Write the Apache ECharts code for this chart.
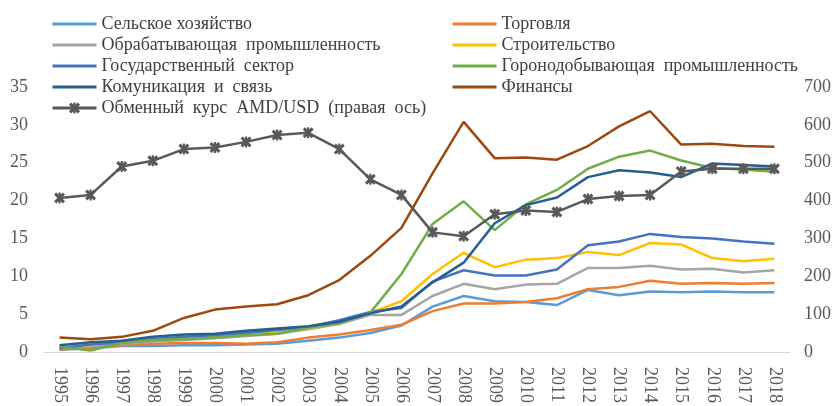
<!DOCTYPE html>
<html>
<head>
<meta charset="utf-8">
<script src="https://cdn.jsdelivr.net/npm/echarts@6/dist/echarts.min.js"></script>
<style>
  html, body { margin: 0; padding: 0; background: #fff; }
  #chart { width: 837px; height: 406px; }
</style>
</head>
<body>
<div id="chart"></div>
<script>
// годы
var years = ['1995', '1996', '1997', '1998', '1999', '2000', '2001', '2002', '2003', '2004', '2005', '2006',
    '2007', '2008', '2009', '2010', '2011', '2012', '2013', '2014', '2015', '2016', '2017', '2018'];

var agriculture   = [0.3, 0.5, 0.8, 0.8, 0.9, 0.9, 1.0, 1.1, 1.5, 1.9, 2.5, 3.5, 6.0, 7.4, 6.7, 6.6, 6.2, 8.2, 7.5, 8.0, 7.9, 8.0, 7.9, 7.9];
var trade         = [0.3, 0.6, 0.9, 1.1, 1.2, 1.2, 1.1, 1.3, 1.9, 2.3, 2.9, 3.6, 5.4, 6.4, 6.4, 6.6, 7.1, 8.3, 8.6, 9.4, 9.0, 9.1, 9.0, 9.1];
var manufacturing = [0.5, 0.8, 1.1, 1.4, 1.6, 1.8, 2.1, 2.4, 3.0, 3.7, 4.9, 4.9, 7.4, 9.0, 8.3, 8.9, 9.0, 11.1, 11.1, 11.4, 10.9, 11.0, 10.5, 10.8];
var construction  = [0.6, 0.9, 1.5, 1.7, 1.8, 2.0, 2.3, 2.6, 3.1, 3.9, 5.2, 6.7, 10.3, 13.1, 11.2, 12.2, 12.4, 13.2, 12.8, 14.4, 14.2, 12.4, 12.0, 12.3];
var government    = [0.5, 1.0, 1.3, 1.7, 2.0, 2.2, 2.5, 2.9, 3.3, 4.2, 5.3, 5.8, 9.3, 10.8, 10.1, 10.1, 10.9, 14.1, 14.6, 15.6, 15.2, 15.0, 14.6, 14.3];
var mining        = [0.7, 0.2, 1.2, 1.6, 1.7, 1.9, 2.2, 2.4, 3.2, 3.8, 5.2, 10.3, 16.9, 19.9, 16.1, 19.5, 21.4, 24.2, 25.8, 26.6, 25.3, 24.3, 24.1, 23.8];
var communication = [0.9, 1.3, 1.5, 2.0, 2.3, 2.4, 2.8, 3.1, 3.4, 4.0, 5.1, 6.0, 9.2, 11.8, 17.0, 19.4, 20.4, 23.1, 24.0, 23.7, 23.1, 24.9, 24.7, 24.5];
var finance       = [1.9, 1.7, 2.0, 2.8, 4.5, 5.6, 6.0, 6.3, 7.5, 9.5, 12.7, 16.4, 23.6, 30.4, 25.6, 25.7, 25.4, 27.2, 29.8, 31.8, 27.4, 27.5, 27.2, 27.1];
var exchangeRate  = [407, 415, 490, 505, 536, 540, 555, 573, 579, 536, 456, 415, 316, 306, 364, 374, 370, 404, 412, 415, 477, 484, 484, 484];

var leftTicks = { min: 0, max: 35, interval: 5 };
var rightTicks = { min: 0, max: 700, interval: 100 };

var font = 'Liberation Serif';
var starSymbol = 'path://M0,2L2,0L5,3L8,0L10,2L7,5L10,8L8,10L5,7L2,10L0,8L3,5Z M4,0L6,0L6,10L4,10Z';

function line(name, data, color) {
    return {
        name: name,
        type: 'line',
        data: data,
        symbol: 'none',
        lineStyle: { color: color, width: 2.5 },
        itemStyle: { color: color },
        z: 2
    };
}

// в легенде только линия, без кружка
function noDot(name) {
    return { name: name, itemStyle: { opacity: 0 } };
}

var chart = echarts.init(document.getElementById('chart'));

var legendText = { fontFamily: font, fontSize: 18, color: '#404040', lineHeight: 18 };

chart.setOption({
    animation: false,
    legend: [{
        orient: 'vertical',
        left: 46,
        top: 10,
        itemWidth: 44,
        itemHeight: 14,
        itemGap: 3,
        lineStyle: { width: 3 },
        textStyle: legendText,
        data: [noDot('Сельское хозяйство'), noDot('Обрабатывающая  промышленность'), noDot('Государственный  сектор'),
            noDot('Комуникация  и  связь'), 'Обменный  курс  AMD/USD  (правая  ось)']
    }, {
        orient: 'vertical',
        left: 446,
        top: 10,
        itemWidth: 44,
        itemHeight: 14,
        itemGap: 3,
        lineStyle: { width: 3 },
        textStyle: legendText,
        data: [noDot('Торговля'), noDot('Строительство'), noDot('Горонодобывающая  промышленность'), noDot('Финансы')]
    }],
    grid: { left: 44, right: 47, top: 87, bottom: 50 },
    xAxis: {
        type: 'category',
        data: years,
        boundaryGap: true,
        axisLine: { lineStyle: { color: '#d9d9d9', width: 1 } },
        axisTick: { show: false },
        axisLabel: { rotate: -90, interval: 0, fontFamily: font, fontSize: 18, color: '#595959', margin: 15 }
    },
    yAxis: [{
        type: 'value',
        min: leftTicks.min,
        max: leftTicks.max,
        interval: leftTicks.interval,
        splitLine: { show: false },
        axisLine: { show: false },
        axisTick: { show: false },
        axisLabel: { fontFamily: font, fontSize: 18, color: '#595959', margin: 16 }
    }, {
        type: 'value',
        min: rightTicks.min,
        max: rightTicks.max,
        interval: rightTicks.interval,
        splitLine: { show: false },
        axisLine: { show: false },
        axisTick: { show: false },
        axisLabel: { fontFamily: font, fontSize: 18, color: '#595959', margin: 14 }
    }],
    series: [
        line('Сельское хозяйство', agriculture, '#5B9BD5'),
        line('Торговля', trade, '#ED7D31'),
        line('Обрабатывающая  промышленность', manufacturing, '#A5A5A5'),
        line('Строительство', construction, '#FFC000'),
        line('Государственный  сектор', government, '#4472C4'),
        line('Горонодобывающая  промышленность', mining, '#70AD47'),
        line('Комуникация  и  связь', communication, '#255E91'),
        line('Финансы', finance, '#9E480E'),
        {
            name: 'Обменный  курс  AMD/USD  (правая  ось)',
            type: 'line',
            yAxisIndex: 1,
            data: exchangeRate,
            symbol: starSymbol,
            symbolSize: 11,
            lineStyle: { color: '#595959', width: 2.5 },
            itemStyle: { color: '#595959' },
            z: 3
        }
    ]
});
</script>
</body>
</html>
